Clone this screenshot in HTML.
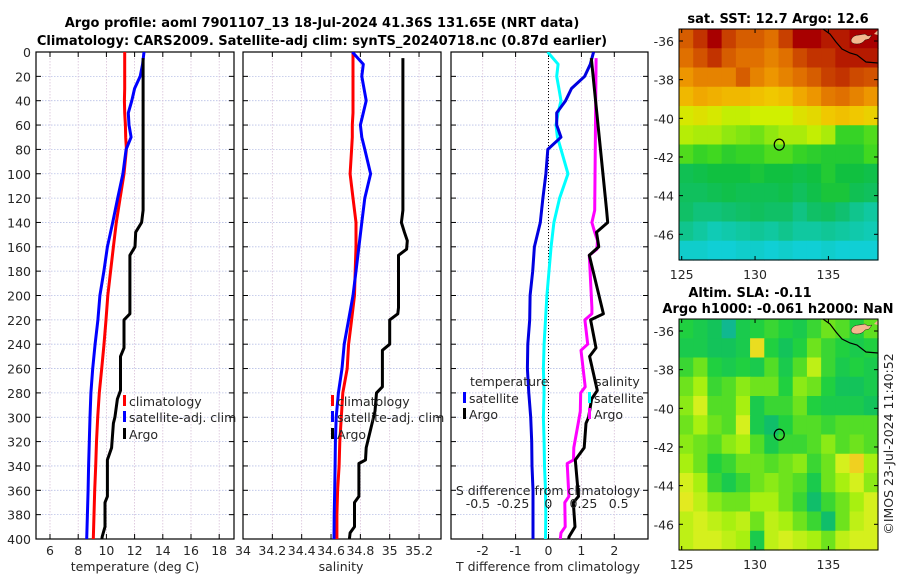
<!DOCTYPE html>
<html><head><meta charset="utf-8"><style>
html,body{margin:0;padding:0;background:#fff;width:900px;height:580px;overflow:hidden}
text{font-family:"DejaVu Sans","Liberation Sans",sans-serif;fill:#262626}
.t{font-weight:bold;fill:#000;font-size:13px}
.tk{font-size:12.5px}
</style></head><body>
<svg id="fig" width="900" height="580" viewBox="0 0 900 580" xmlns="http://www.w3.org/2000/svg">
<rect width="900" height="580" fill="#fff"/>
<text class="t" x="322" y="27" text-anchor="middle">Argo profile: aoml 7901107_13 18-Jul-2024 41.36S 131.65E (NRT data)</text>
<text class="t" x="322" y="45" text-anchor="middle">Climatology: CARS2009. Satellite-adj clim: synTS_20240718.nc (0.87d earlier)</text>
<text class="t" x="778" y="23" text-anchor="middle">sat. SST: 12.7 Argo: 12.6</text>
<text class="t" x="750" y="297" text-anchor="middle">Altim. SLA: -0.11</text>
<text class="t" x="778" y="313" text-anchor="middle">Argo h1000: -0.061 h2000: NaN</text>
<text class="tk" transform="translate(893,444) rotate(-90)" text-anchor="middle">©IMOS 23-Jul-2024 11:40:52</text>
<g id="plots"></g>
</svg>
<script>
// ---- profile data ----
const depthsC = [0,10,20,30,40,50,60,70,80,100,120,140,160,180,200,220,240,260,280,300,320,340,360,380,400];
const tempClim = [11.3,11.3,11.3,11.3,11.28,11.3,11.35,11.37,11.42,11.25,10.97,10.7,10.5,10.3,10.1,9.97,9.83,9.67,9.5,9.38,9.3,9.24,9.17,9.12,9.07];
const tempSat = [12.67,12.57,12.4,12.0,11.8,11.55,11.6,11.75,11.4,11.17,10.8,10.45,10.07,9.82,9.54,9.4,9.2,9.03,8.9,8.84,8.79,8.74,8.7,8.65,8.6];
const salClim = [34.75,34.75,34.75,34.75,34.75,34.75,34.745,34.745,34.74,34.73,34.75,34.77,34.77,34.765,34.76,34.74,34.72,34.71,34.68,34.67,34.66,34.655,34.645,34.64,34.64];
const salSat = [34.745,34.82,34.81,34.825,34.84,34.82,34.80,34.81,34.83,34.87,34.83,34.81,34.79,34.77,34.75,34.72,34.69,34.675,34.65,34.635,34.63,34.628,34.625,34.622,34.62];
const argoTDepth = [5,130,140,148,160,167,215,220,243,250,278,285,300,305,325,335,365,370,390,398,400];
const argoT = [12.6,12.6,12.5,12.08,12.03,11.67,11.67,11.25,11.25,11.0,11.0,10.78,10.6,10.5,10.37,10.07,10.07,9.9,9.9,9.7,9.68];
const argoSDepth = [5,130,140,148,155,162,167,210,215,220,240,245,275,280,295,305,325,335,338,365,370,390,395,400];
const argoS = [35.09,35.09,35.08,35.10,35.12,35.115,35.06,35.06,35.055,35.0,35.0,34.95,34.95,34.91,34.9,34.88,34.84,34.835,34.79,34.79,34.76,34.76,34.73,34.725];
const depthTicks = [0,20,40,60,80,100,120,140,160,180,200,220,240,260,280,300,320,340,360,380,400];
const tempTicks = [6,8,10,12,14,16,18];
const salTicks = [34,34.2,34.4,34.6,34.8,35,35.2];
const salTickLabels = ["34","34.2","34.4","34.6","34.8","35","35.2"];
const tdiffTicks = [-2,-1,0,1,2];
const sdiffTicks = [-0.5,-0.25,0,0.25,0.5];
const sdiffTickLabels = ["-0.5","-0.25","0","0.25","0.5"];
// ---- map data (1-degree cells, rows north->south) ----
const sstGrid = [
[15.2,15.6,16,15.5,15.2,15.2,15.0,15.5,16,16,15.8,15.8,16,16],
[15,15.3,15.6,15.2,15,15,14.8,15,15.4,15.6,15.6,15.8,15.8,15.8],
[14.6,14.8,14.8,14.8,15.2,14.8,14.6,14.8,15,15.2,15.5,15.6,15.4,15.3],
[14.2,14.4,14.3,14.2,14.2,14.1,14.0,14.1,14.4,14.6,14.9,15,14.8,14.6],
[13.6,13.7,13.6,13.4,13.4,13.5,13.5,13.5,13.7,13.8,14,14.1,14,13.9],
[13.3,13.2,13.2,13.0,12.9,12.8,13.0,13.2,13.2,13.4,13.2,12.4,12.4,12.6],
[12.6,12.4,12.5,12.3,12.4,12.4,12.6,12.6,12.4,12.3,12.2,12.2,12.2,12.5],
[11.8,11.9,12,12,12.0,12.1,12,12,11.9,12,12.2,12.0,12.0,11.9],
[11.7,11.7,11.8,11.9,11.8,11.8,11.8,11.9,11.7,11.9,12.1,12.1,11.8,11.7],
[11.6,11.4,11.4,11.5,11.6,11.7,11.6,11.6,11.3,11.6,11.7,11.5,11.2,11.0],
[11.2,11,10.8,10.9,11,11.1,11,11.2,11,11,11.1,11,10.9,10.8],
[10.6,10.6,10.5,10.5,10.6,10.6,10.5,10.6,10.5,10.5,10.6,10.5,10.5,10.5]];
const slaGrid = [
[-0.1,-0.12,-0.14,-0.2,-0.12,-0.1,-0.08,-0.1,-0.12,-0.08,-0.04,-0.06,-0.1,-0.05],
[-0.12,-0.12,-0.14,-0.14,-0.12,0.08,-0.1,-0.14,-0.1,-0.04,-0.08,-0.1,-0.12,-0.1],
[-0.08,-0.04,-0.1,-0.12,-0.1,-0.12,-0.06,-0.12,-0.06,0.02,-0.08,-0.12,-0.1,-0.12],
[-0.04,0.0,-0.08,-0.06,-0.02,-0.04,-0.04,-0.1,-0.02,-0.04,-0.1,-0.14,-0.14,-0.12],
[-0.02,0.04,-0.06,-0.06,0.0,-0.12,-0.08,-0.08,-0.04,-0.1,-0.12,-0.12,-0.12,-0.14],
[-0.04,0.0,-0.04,-0.06,0.04,-0.12,-0.16,-0.1,-0.06,-0.06,-0.08,-0.06,-0.06,-0.06],
[-0.02,-0.04,-0.06,-0.02,0.0,-0.06,-0.12,-0.08,-0.08,-0.06,-0.02,-0.06,-0.04,-0.06],
[0.0,-0.04,-0.1,-0.08,-0.04,-0.04,-0.06,-0.04,-0.02,-0.08,-0.04,0.04,0.1,0.0],
[0.04,0.0,-0.08,-0.12,-0.08,-0.04,-0.02,-0.04,-0.06,-0.12,-0.04,0.0,0.04,-0.02],
[0.06,0.02,-0.02,-0.04,-0.04,0.0,0.0,-0.04,-0.08,-0.16,-0.08,-0.04,0.0,0.04],
[0.02,0.04,0.02,0.0,0.02,-0.04,0.02,0.0,-0.04,-0.08,-0.16,-0.04,0.02,0.04],
[0.02,0.04,0.04,0.02,0.0,-0.12,0.02,0.04,0.02,0.0,-0.04,0.02,0.04,0.04]];
const lonTicks = [125,130,135];
const latTicks = [-36,-38,-40,-42,-44,-46];
const argoLon = 131.65, argoLat = -41.36;

const NS='http://www.w3.org/2000/svg';
const root=document.getElementById('plots');
function el(tag,attrs,parent){const e=document.createElementNS(NS,tag);for(const k in attrs)e.setAttribute(k,attrs[k]);(parent||root).appendChild(e);return e;}
function txt(s,x,y,anchor,parent,cls){const e=el('text',{x:x,y:y,'text-anchor':anchor||'middle','class':cls||'tk'},parent);e.textContent=s;return e;}
function interp(xs,ys,x){if(x<=xs[0])return ys[0];for(let i=1;i<xs.length;i++){if(x<=xs[i]){const f=(x-xs[i-1])/(xs[i]-xs[i-1]);return ys[i-1]+f*(ys[i]-ys[i-1]);}}return ys[ys.length-1];}

const yD=d=>52+d*(487/400);
const PT=52,PB=539;
const panels=[{x0:36,x1:234,name:'temperature-panel'},{x0:243,x1:441,name:'salinity-panel'},{x0:451,x1:648,name:'difference-panel'}];
const xT=t=>50+(t-6)*14.1, xS=s=>243+(s-34)*146.7, xTd=v=>548.5+v*32.9, xSd=v=>548.3+v*140.7;

const defs=el('defs',{});
panels.forEach((p,i)=>{const c=el('clipPath',{id:'clip'+i},defs);el('rect',{x:p.x0,y:PT,width:p.x1-p.x0,height:PB-PT},c);});

function panelFrame(i,xticks,xfun){
  const p=panels[i];
  const g=el('g',{});
  
  
  depthTicks.forEach(d=>{el('line',{x1:p.x0,x2:p.x1,y1:yD(d),y2:yD(d),stroke:'#b8c0e6','stroke-width':0.8,'stroke-dasharray':'1.5,1.5'},g);});
  xticks.forEach(v=>{const x=xfun(v);el('line',{x1:x,x2:x,y1:PT,y2:PB,stroke:'#d8c0d8','stroke-width':0.8,'stroke-dasharray':'1.5,1.5'},g);});
  depthTicks.forEach(d=>{el('line',{x1:p.x0,x2:p.x0+5,y1:yD(d),y2:yD(d),stroke:'#000'},g);el('line',{x1:p.x1-5,x2:p.x1,y1:yD(d),y2:yD(d),stroke:'#000'},g);});
  xticks.forEach(v=>{const x=xfun(v);el('line',{x1:x,x2:x,y1:PB-5,y2:PB,stroke:'#000'},g);el('line',{x1:x,x2:x,y1:PT,y2:PT+5,stroke:'#000'},g);});
  el('rect',{x:p.x0,y:PT,width:p.x1-p.x0,height:PB-PT,fill:'none',stroke:'#000','stroke-width':1.2},g);
  return g;
}
function poly(xs,ds,fx,color,name,i,w){
  const pts=xs.map((v,k)=>fx(v).toFixed(1)+','+yD(ds[k]).toFixed(1)).join(' ');
  const e=el('polyline',{points:pts,fill:'none',stroke:color,'stroke-width':w||3,'stroke-linejoin':'round','clip-path':'url(#clip'+i+')'});
  
  
  return e;
}
function legendEntry(x,y,color,label,name){
  const g=el('g',{});
  
  
  el('rect',{x:x,y:y-6,width:3,height:11,fill:color},g);
  txt(label,x+6,y+5,'start',g);
}

// Panel 1
panelFrame(0,tempTicks,xT);
depthTicks.forEach(d=>{const e=txt(String(d),31,yD(d)+5,'end');});
tempTicks.forEach(v=>txt(String(v),xT(v),555,'middle'));
txt('temperature (deg C)',135,571,'middle');
poly(tempClim,depthsC,xT,'#ff0000','temp-climatology-line',0);
poly(tempSat,depthsC,xT,'#0000ff','temp-satellite-line',0);
poly(argoT,argoTDepth,xT,'#000000','temp-argo-line',0);
legendEntry(123,401,'#ff0000','climatology','legend-climatology');
legendEntry(123,417,'#0000ff','satellite-adj. clim','legend-satellite');
legendEntry(123,434,'#000000','Argo','legend-argo');

// Panel 2
panelFrame(1,salTicks,xS);
salTicks.forEach((v,k)=>txt(salTickLabels[k],xS(v),555,'middle'));
txt('salinity',341,571,'middle');
poly(salClim,depthsC,xS,'#ff0000','sal-climatology-line',1);
poly(salSat,depthsC,xS,'#0000ff','sal-satellite-line',1);
poly(argoS,argoSDepth,xS,'#000000','sal-argo-line',1);
legendEntry(331,401,'#ff0000','climatology','legend-climatology-sal');
legendEntry(331,417,'#0000ff','satellite-adj. clim','legend-satellite-sal');
legendEntry(331,434,'#000000','Argo','legend-argo-sal');

// Panel 3
panelFrame(2,tdiffTicks,xTd);
el('line',{x1:xTd(0),x2:xTd(0),y1:PT,y2:PB,stroke:'#000','stroke-width':1,'stroke-dasharray':'1,2'});
tdiffTicks.forEach(v=>txt(String(v),xTd(v),555,'middle'));
txt('T difference from climatology',548,571,'middle');
const tdSat=tempSat.map((v,k)=>v-tempClim[k]);
const sdSat=salSat.map((v,k)=>v-salClim[k]);
const tdArgo=argoT.map((v,k)=>v-interp(depthsC,tempClim,argoTDepth[k]));
const sdArgo=argoS.map((v,k)=>v-interp(depthsC,salClim,argoSDepth[k]));
poly(sdSat,depthsC,xSd,'#00ffff','sdiff-satellite-line',2);
poly(sdArgo,argoSDepth,xSd,'#ff00ff','sdiff-argo-line',2);
poly(tdSat,depthsC,xTd,'#0000e0','tdiff-satellite-line',2);
poly(tdArgo,argoTDepth,xTd,'#000000','tdiff-argo-line',2);
txt('temperature',470,386,'start');
legendEntry(463,398,'#0000ff','satellite','legend-tdiff-satellite');
legendEntry(463,414,'#000000','Argo','legend-tdiff-argo');
txt('salinity',595,386,'start');
legendEntry(588,398,'#00ffff','satellite','legend-sdiff-satellite');
legendEntry(588,414,'#ff00ff','Argo','legend-sdiff-argo');
txt('S difference from climatology',548,495,'middle');
sdiffTicks.forEach((v,k)=>txt(sdiffTickLabels[k],xSd(v),508,'middle'));

// ---- maps ----
const rgb=c=>'rgb('+c.map(Math.round).join(',')+')';
function lerpColor(stops,v){
  if(v<=stops[0][0])return rgb(stops[0][1]);
  for(let i=1;i<stops.length;i++){if(v<=stops[i][0]){const f=(v-stops[i-1][0])/(stops[i][0]-stops[i-1][0]);const a=stops[i-1][1],b=stops[i][1];return rgb(a.map((c,j)=>c+f*(b[j]-c)));}}
  return rgb(stops[stops.length-1][1]);
}
const sstStops=[[10.4,[16,208,224]],[11,[16,200,160]],[11.5,[16,192,112]],[12,[16,192,64]],[12.5,[64,216,32]],[13,[144,232,16]],[13.5,[208,240,0]],[14,[240,200,0]],[14.5,[240,160,0]],[15,[224,112,0]],[15.5,[200,64,0]],[16,[168,0,0]]];
const slaStops=[[-0.2,[16,184,144]],[-0.15,[16,192,96]],[-0.1,[32,208,64]],[-0.05,[96,224,32]],[0,[168,240,16]],[0.05,[224,240,32]],[0.1,[240,208,32]]];
const MX0=679,MX1=878;
const lonX=lon=>681.7+(lon-125)*14.67;
function drawMap(grid,stops,top,name){
  const g=el('g',{});
  
  
  const h=231,w=MX1-MX0;
  const latY=lat=>top+12+(-36-lat)*19.33;
  const cw=w/grid[0].length,ch=h/grid.length;
  grid.forEach((row,r)=>row.forEach((v,c)=>{
    const cell=el('rect',{x:(MX0+c*cw).toFixed(2),y:(top+r*ch).toFixed(2),width:(cw+0.6).toFixed(2),height:(ch+0.6).toFixed(2),fill:lerpColor(stops,v)},g);
    
    
  }));
  el('polyline',{points:`823,${top} 830,${top+5} 836,${top+13} 842,${top+20} 850,${top+24} 857,${top+26} 866,${top+33} 878,${top+34}`,fill:'none',stroke:'#000','stroke-width':1.2},g);
  el('path',{d:`M851,${top+11} q2,-5 8,-5 l6,-1 3,2 4,-1 -3,4 -4,1 q-3,4 -8,4 q-6,0 -6,-4z`,fill:'#f4b890',stroke:'#000','stroke-width':0.4},g);
  el('path',{d:`M874,${top+5} l4,-4 0,5z`,fill:'#f4b890'},g);
  el('ellipse',{cx:lonX(argoLon),cy:latY(argoLat),rx:5,ry:5.5,fill:'none',stroke:'#000','stroke-width':1.2},g);
  latTicks.forEach(l=>{const y=latY(l);el('line',{x1:MX0,x2:MX0+4,y1:y,y2:y,stroke:'#000'},g);el('line',{x1:MX1-4,x2:MX1,y1:y,y2:y,stroke:'#000'},g);txt(String(l),674,y+5,'end',g);});
  lonTicks.forEach(l=>{const x=lonX(l);el('line',{x1:x,x2:x,y1:top+h-4,y2:top+h,stroke:'#000'},g);el('line',{x1:x,x2:x,y1:top,y2:top+4,stroke:'#000'},g);txt(String(l),x,top+h+19,'middle',g);});
  el('rect',{x:MX0,y:top,width:w,height:h,fill:'none',stroke:'#000','stroke-width':1},g);
}
drawMap(sstGrid,sstStops,29,'sst-map');
drawMap(slaGrid,slaStops,319,'sla-map');
</script>
</body></html>
